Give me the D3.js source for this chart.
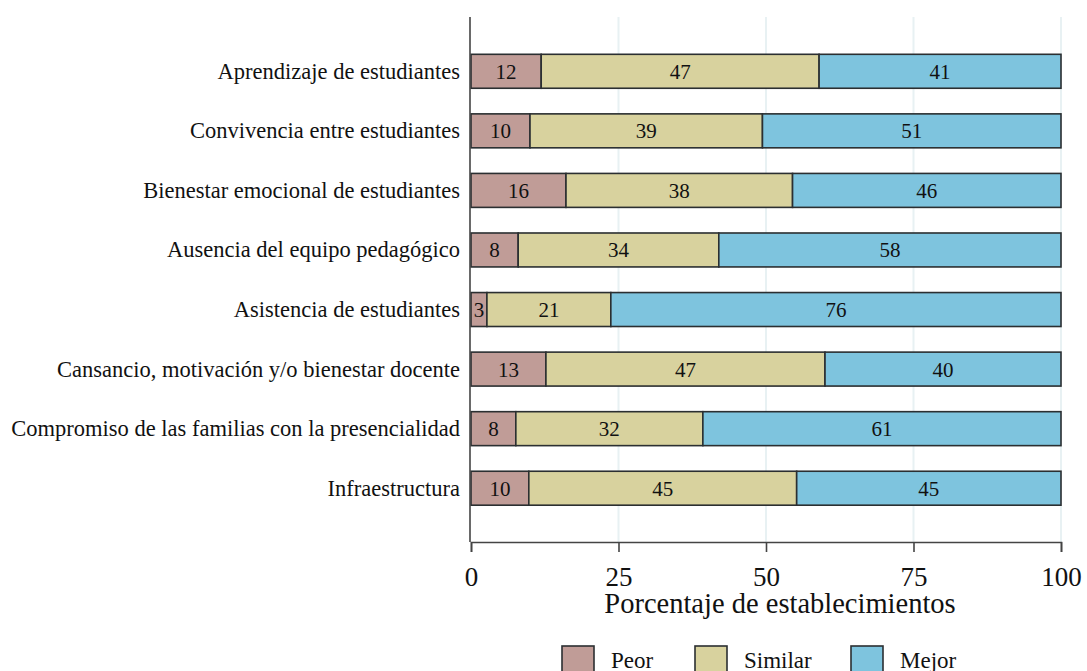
<!DOCTYPE html>
<html>
<head>
<meta charset="utf-8">
<script src="https://cdn.jsdelivr.net/npm/d3@7"></script>
<style>
  body { margin: 0; background: #fff; }
  svg text { font-family: "Liberation Serif", "Times New Roman", serif; fill: #111; }
</style>
</head>
<body>
<div id="chart"></div>
<script>
// categorias, de arriba hacia abajo
var categorias = [
  "Aprendizaje de estudiantes",
  "Convivencia entre estudiantes",
  "Bienestar emocional de estudiantes",
  "Ausencia del equipo pedagógico",
  "Asistencia de estudiantes",
  "Cansancio, motivación y/o bienestar docente",
  "Compromiso de las familias con la presencialidad",
  "Infraestructura"
];
var peor    = [11.9, 10.0, 16.1, 8.0, 2.7, 12.7, 7.6, 9.8];
var similar = [47.1, 39.4, 38.4, 34.0, 21.0, 47.3, 31.7, 45.4];
var mejor   = [41.0, 50.6, 45.5, 58.0, 76.3, 40.0, 60.7, 44.8];
var series  = ["Peor", "Similar", "Mejor"];
var colores = ["#c09c97", "#d8d29e", "#7ec4de"];
var ticks   = [0, 25, 50, 75, 100];

var W = 1087, H = 671;
var m = {left: 471, right: 26, top: 17, bottom: 129};

var svg = d3.select("#chart").append("svg")
  .attr("width", W).attr("height", H);

var x = d3.scaleLinear().domain([0, 100]).range([m.left, W - m.right]);
var y = d3.scaleBand().domain(categorias)
  .range([41.5, 518]).paddingInner(0.43).paddingOuter(0.215);

// grid
svg.selectAll(".grid").data(ticks.slice(1)).enter().append("line")
  .attr("x1", function(d) { return x(d); }).attr("x2", function(d) { return x(d); })
  .attr("y1", m.top).attr("y2", H - m.bottom)
  .attr("stroke", "#e8f1f3").attr("stroke-width", 2);

var filas = categorias.map(function(c, i) {
  return {cat: c, vals: [peor[i], similar[i], mejor[i]]};
});

var g = svg.selectAll(".fila").data(filas).enter().append("g").attr("class", "fila");

g.each(function(d) {
  var acc = 0;
  var sel = d3.select(this);
  d.vals.forEach(function(v, k) {
    var x0 = x(acc), x1 = x(acc + v);
    sel.append("rect")
      .attr("x", x0).attr("y", y(d.cat))
      .attr("width", x1 - x0).attr("height", y.bandwidth())
      .attr("fill", colores[k]).attr("stroke", "#2b2f31").attr("stroke-width", 1.6);
    sel.append("text")
      .attr("x", (x0 + x1) / 2).attr("y", y(d.cat) + y.bandwidth() / 2 + 7.5)
      .attr("text-anchor", "middle").style("font-size", "21px")
      .text(Math.round(v));
    acc += v;
  });
  sel.append("text")
    .attr("x", m.left - 11).attr("y", y(d.cat) + y.bandwidth() / 2 + 7.5)
    .attr("text-anchor", "end").style("font-size", "22.5px")
    .text(d.cat);
});

// ejes
svg.append("line").attr("x1", m.left - 1).attr("x2", m.left - 1)
  .attr("y1", m.top).attr("y2", H - m.bottom)
  .attr("stroke", "#444").attr("stroke-width", 1.6);

var xAxis = svg.append("g").attr("transform", "translate(0," + (H - m.bottom) + ")")
  .call(d3.axisBottom(x).tickValues(ticks).tickSize(10).tickPadding(15));
xAxis.select(".domain").attr("stroke", "#444").attr("stroke-width", 1.6);
xAxis.selectAll(".tick line").attr("stroke", "#444").attr("stroke-width", 1.6);
xAxis.selectAll(".tick text").style("font-size", "27px")
  .style("font-family", "'Liberation Serif', serif").attr("fill", "#111");

svg.append("text").attr("x", 780).attr("y", 613)
  .attr("text-anchor", "middle").style("font-size", "28.5px")
  .text("Porcentaje de establecimientos");

// leyenda
var leyX = [562, 695, 851];
var ley = svg.selectAll(".ley").data(series).enter().append("g").attr("class", "ley");
ley.append("rect")
  .attr("x", function(d, i) { return leyX[i]; }).attr("y", 646)
  .attr("width", 32).attr("height", 30)
  .attr("fill", function(d, i) { return colores[i]; })
  .attr("stroke", "#2b2f31").attr("stroke-width", 1.6);
ley.append("text")
  .attr("x", function(d, i) { return leyX[i] + 49; }).attr("y", 668)
  .style("font-size", "23px").text(function(d) { return d; });
</script>
</body>
</html>
